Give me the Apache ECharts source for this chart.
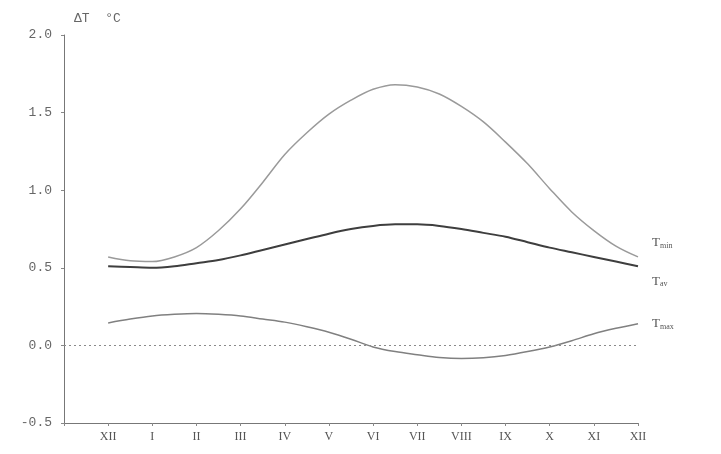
<!DOCTYPE html>
<html>
<head>
<meta charset="utf-8">
<script src="https://cdn.jsdelivr.net/npm/echarts@6/dist/echarts.min.js"></script>
<style>
  html, body { margin: 0; padding: 0; background: #ffffff; }
  #chart { width: 721px; height: 454px; }
</style>
</head>
<body>
<div id="chart"></div>
<script>
// Axis labels: 0 = XII (previous year), 1..11 = I..XI, 12 = XII
const monthLabels = ['XII', 'I', 'II', 'III', 'IV', 'V', 'VI', 'VII', 'VIII', 'IX', 'X', 'XI', 'XII'];

// Sample positions (half-month steps from XII to XII)
const samplePos = [0, 0.5, 1, 1.5, 2, 2.5, 3, 3.5, 4, 4.5, 5, 5.5, 6,
                   6.5, 7, 7.5, 8, 8.5, 9, 9.5, 10, 10.5, 11, 11.5, 12];

// Temperature change ΔT (°C) at each sample position
const tMin = [0.57, 0.545, 0.54, 0.57, 0.63, 0.74, 0.88, 1.05, 1.23, 1.37, 1.49, 1.58, 1.65,
              1.68, 1.665, 1.62, 1.54, 1.44, 1.31, 1.17, 1.01, 0.86, 0.74, 0.64, 0.57];
const tAv  = [0.51, 0.505, 0.50, 0.51, 0.53, 0.55, 0.58, 0.615, 0.65, 0.685, 0.72, 0.75, 0.77,
              0.78, 0.78, 0.77, 0.75, 0.725, 0.70, 0.665, 0.63, 0.60, 0.57, 0.54, 0.51];
const tMax = [0.145, 0.17, 0.19, 0.20, 0.205, 0.20, 0.19, 0.17, 0.15, 0.12, 0.085, 0.04, -0.01,
              -0.04, -0.06, -0.078, -0.085, -0.08, -0.065, -0.04, -0.01, 0.03, 0.075, 0.11, 0.14];

const yTicks = [-0.5, 0.0, 0.5, 1.0, 1.5, 2.0];

const pairs = (ys) => samplePos.map((x, i) => [x, ys[i]]);

const labelRich = {
  t: { fontFamily: 'Liberation Serif', fontSize: 13, color: '#555' },
  s: { fontFamily: 'Liberation Serif', fontSize: 8, color: '#555', verticalAlign: 'bottom', padding: [6, 0, 0, 0] }
};

function endLabel(sub, dy) {
  return {
    show: true,
    formatter: '{t|T}{s|' + sub + '}',
    rich: labelRich,
    offset: [6, dy]
  };
}

const SMOOTH = 0.33;

const chart = echarts.init(document.getElementById('chart'), null, { renderer: 'canvas' });

chart.setOption({
  animation: false,
  backgroundColor: '#ffffff',
  grid: { left: 64, right: 83, top: 35, bottom: 31, containLabel: false },
  graphic: [{
    type: 'text',
    left: 74,
    top: 12,
    style: { text: 'ΔT  °C', font: '13px "Liberation Mono"', fill: '#666' }
  }],
  xAxis: {
    type: 'value',
    min: -1,
    max: 12,
    interval: 1,
    splitLine: { show: false },
    axisLine: { onZero: false, lineStyle: { color: '#777', width: 1 } },
    axisTick: { show: true, length: 3, lineStyle: { color: '#888' } },
    axisLabel: {
      margin: 8,
      fontFamily: 'Liberation Serif',
      fontSize: 12,
      color: '#555',
      formatter: (v) => (v >= 0 && v <= 12 ? monthLabels[v] : '')
    }
  },
  yAxis: {
    type: 'value',
    min: yTicks[0],
    max: yTicks[yTicks.length - 1],
    interval: 0.5,
    splitLine: { show: false },
    axisLine: { show: true, onZero: false, lineStyle: { color: '#777', width: 1 } },
    axisTick: { show: true, length: 3, lineStyle: { color: '#888' } },
    axisLabel: {
      margin: 12,
      fontFamily: 'Liberation Mono',
      fontSize: 13,
      color: '#666',
      formatter: (v) => v.toFixed(1)
    }
  },
  series: [
    {
      name: 'Tmin',
      type: 'line',
      data: pairs(tMin),
      smooth: SMOOTH,
      symbol: 'none',
      lineStyle: { color: '#9a9a9a', width: 1.5 },
      endLabel: endLabel('min', -14)
    },
    {
      name: 'Tav',
      type: 'line',
      data: pairs(tAv),
      smooth: SMOOTH,
      symbol: 'none',
      lineStyle: { color: '#3e3e3e', width: 2 },
      endLabel: endLabel('av', 15)
    },
    {
      name: 'Tmax',
      type: 'line',
      data: pairs(tMax),
      smooth: SMOOTH,
      symbol: 'none',
      lineStyle: { color: '#808080', width: 1.5 },
      endLabel: endLabel('max', 0),
      markLine: {
        silent: true,
        symbol: ['none', 'none'],
        label: { show: false },
        lineStyle: { color: '#8a8a8a', type: [2, 3], width: 1 },
        data: [{ yAxis: 0 }]
      }
    }
  ]
});
</script>
</body>
</html>
